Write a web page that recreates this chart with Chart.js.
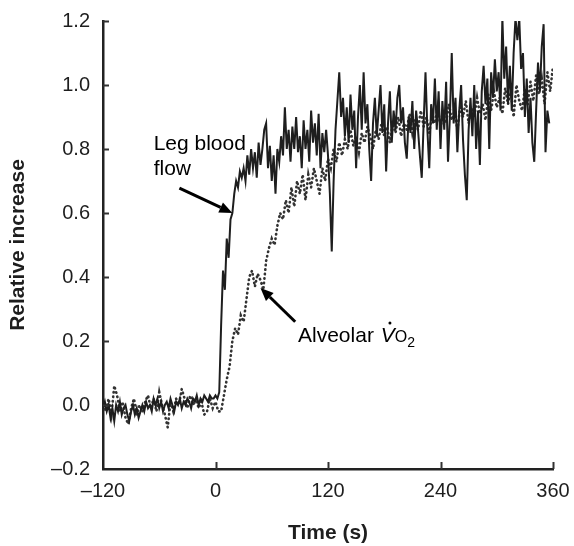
<!DOCTYPE html>
<html>
<head>
<meta charset="utf-8">
<script src="https://cdn.jsdelivr.net/npm/chart.js@4.4.1/dist/chart.umd.min.js"></script>
<style>
  html, body { margin: 0; padding: 0; background: #fff; }
  #wrap { width: 574px; height: 546px; }
</style>
</head>
<body>
<div id="wrap"><canvas id="chart" width="574" height="546"></canvas></div>
<script>
// axis ticks
const xTicks = [-120, 0, 120, 240, 360];
const yTicks = [-0.2, 0, 0.2, 0.4, 0.6, 0.8, 1.0, 1.2];

// leg blood flow, one sample every 2 s from -120 s
const flowStart = -120;
const flowStep = 2;
const flowValues = [
  -0.01, 0.01, -0.02, 0.00, -0.04, -0.01, -0.05, 0.00, -0.02, 0.01,
  -0.03, -0.01, 0.00, -0.03, -0.05, -0.02, 0.00, -0.03, -0.01, -0.04,
  -0.02, 0.00, -0.02, 0.01, -0.01, 0.00, -0.02, 0.02, 0.00, 0.02,
  -0.01, 0.01, -0.02, 0.00, 0.01, -0.01, 0.02, 0.00, -0.02, 0.01,
  0.00, 0.02, -0.01, 0.01, 0.00, 0.02, 0.01, -0.01, 0.02, 0.01,
  0.03, 0.00, 0.02, 0.01, 0.03, 0.02, 0.01, 0.03, 0.02, 0.02,
  0.03, 0.02, 0.04,
  // onset
  0.25, 0.42, 0.36, 0.52, 0.46, 0.58, 0.60, 0.66, 0.70, 0.68, 0.73, 0.71,
  // 30 s ->
  0.74, 0.70, 0.78, 0.72, 0.80, 0.74, 0.79, 0.71, 0.82, 0.75,
  0.80, 0.86, 0.88, 0.74, 0.81, 0.70, 0.78, 0.66, 0.80, 0.76,
  0.84, 0.78, 0.93, 0.80, 0.86, 0.76, 0.87, 0.80, 0.90, 0.79,
  0.84, 0.74, 0.89, 0.80, 0.86, 0.76, 0.92, 0.82, 0.88, 0.78,
  0.91, 0.74, 0.85, 0.79, 0.86, 0.78, 0.66, 0.48, 0.70, 0.86,
  0.95, 1.04, 0.90, 0.96, 0.84, 0.93, 0.82, 0.97, 0.86, 0.92,
  0.74, 0.90, 1.00, 0.86, 1.04, 0.88, 0.94, 0.80, 0.70, 0.88,
  0.96, 0.84, 0.92, 1.00, 0.85, 0.94, 0.73, 0.88, 0.98, 0.82,
  0.92, 0.86, 0.96, 1.00, 0.88, 0.93, 0.82, 0.77, 0.90, 0.85,
  0.95, 0.80, 0.92, 0.86, 0.78, 0.71, 0.88, 1.04, 0.86, 0.74,
  0.94, 0.88, 1.02, 0.86, 0.98, 0.80, 0.95, 0.86, 1.01, 0.76,
  0.90, 1.10, 0.88, 0.96, 0.79, 0.92, 1.00, 0.83, 0.72, 0.64,
  0.86, 0.96, 0.84, 1.00, 0.80, 0.92, 0.75, 0.98, 1.06, 0.94,
  1.02, 0.80, 1.04, 0.96, 1.08, 0.98, 1.04, 0.92, 1.21, 1.02,
  1.12, 0.94, 1.06, 0.92, 1.10, 1.21, 1.14, 1.21, 1.05, 1.10,
  0.90, 1.02, 0.85, 0.96, 0.82, 0.76, 0.92, 1.07, 0.98, 1.12,
  1.19, 0.79, 0.92, 0.88
];

// alveolar VO2, one sample every 3 s from -120 s
const vo2Start = -120;
const vo2Step = 3;
const vo2Values = [
  0.00, -0.02, 0.02, -0.03, 0.06, 0.03, -0.02, 0.01, -0.04, -0.06,
  -0.01, 0.02, -0.03, 0.00, -0.02, 0.01, 0.03, -0.01, 0.02, -0.02,
  0.04, 0.00, -0.03, -0.07, 0.01, -0.02, 0.02, 0.00, 0.05, 0.02,
  -0.01, 0.03, 0.00, 0.02, -0.01, 0.01, -0.03, -0.02, 0.02, -0.01,
  0.01, -0.02, -0.02, 0.03, 0.08, 0.12, 0.20, 0.24, 0.22, 0.28,
  0.26, 0.33, 0.40, 0.42, 0.37, 0.41, 0.39, 0.36, 0.45, 0.49,
  0.52, 0.50, 0.56, 0.60, 0.58, 0.64, 0.60, 0.68, 0.62, 0.70,
  0.66, 0.72, 0.64, 0.72, 0.68, 0.74, 0.70, 0.66, 0.74, 0.70,
  0.77, 0.74, 0.80, 0.76, 0.82, 0.78, 0.83, 0.80, 0.86, 0.81,
  0.84, 0.79, 0.85, 0.82, 0.87, 0.84, 0.80, 0.86, 0.83, 0.88,
  0.84, 0.87, 0.82, 0.88, 0.85, 0.90, 0.84, 0.88, 0.86, 0.91,
  0.85, 0.89, 0.86, 0.92, 0.87, 0.90, 0.85, 0.91, 0.88, 0.93,
  0.87, 0.91, 0.88, 0.94, 0.89, 0.92, 0.86, 0.93, 0.90, 0.95,
  0.88, 0.93, 0.90, 0.96, 0.91, 0.94, 0.89, 0.97, 0.92, 0.98,
  0.93, 0.96, 0.91, 0.99, 0.94, 0.98, 0.90, 1.00, 0.95, 0.92,
  0.99, 0.94, 1.01, 0.95, 1.03, 0.97, 1.02, 0.94, 1.04, 0.98,
  1.06
];

const toPoints = (start, step, values) =>
  values.map((v, i) => ({ x: start + i * step, y: v }));

const dash = (v) => (v < 0 ? '\u2013' + Math.abs(v) : String(v));

const FONT = '"Liberation Sans", Arial, sans-serif';
const INK = '#1e1e1e';

function arrow(ctx, x0, y0, x1, y1) {
    const ang = Math.atan2(y1 - y0, x1 - x0);
    const len = 13, half = 5.5;
    const bx = x1 - len * Math.cos(ang), by = y1 - len * Math.sin(ang);
    ctx.beginPath();
    ctx.moveTo(x0, y0);
    ctx.lineTo(bx, by);
    ctx.lineWidth = 3;
    ctx.strokeStyle = '#000';
    ctx.stroke();
    ctx.beginPath();
    ctx.moveTo(x1, y1);
    ctx.lineTo(bx - half * Math.sin(ang), by + half * Math.cos(ang));
    ctx.lineTo(bx + half * Math.sin(ang), by - half * Math.cos(ang));
    ctx.closePath();
    ctx.fillStyle = '#000';
    ctx.fill();
}

// inward tick marks + labels with arrows
const decorations = {
    id: 'decorations',
    afterDraw(chart) {
        const { ctx, scales: { x, y } } = chart;
        ctx.save();
        ctx.strokeStyle = '#333';
        ctx.lineWidth = 2;
        yTicks.slice(1).forEach(v => {
            const py = Math.round(y.getPixelForValue(v)) + 0.5;
            ctx.beginPath();
            ctx.moveTo(x.left, py);
            ctx.lineTo(x.left + 6, py);
            ctx.stroke();
        });
        xTicks.slice(1).forEach(v => {
            const px = Math.round(x.getPixelForValue(v)) + 0.5;
            ctx.beginPath();
            ctx.moveTo(px, y.bottom);
            ctx.lineTo(px, y.bottom - 7);
            ctx.stroke();
        });

        const P = (t, v) => [x.getPixelForValue(t), y.getPixelForValue(v)];

        // Leg blood flow
        ctx.fillStyle = '#000';
        ctx.font = '21px ' + FONT;
        ctx.textBaseline = 'alphabetic';
        ctx.textAlign = 'left';
        let [tx, ty] = P(-66, 0.797);
        ctx.fillText('Leg blood', tx, ty);
        ctx.fillText('flow', tx, ty + 25);
        arrow(ctx, ...P(-38.5, 0.678), ...P(18, 0.6));

        // Alveolar VO2
        arrow(ctx, ...P(85, 0.26), ...P(48, 0.366));
        [tx, ty] = P(88, 0.197);
        ctx.font = '21px ' + FONT;
        ctx.fillText('Alveolar ', tx, ty);
        tx += ctx.measureText('Alveolar ').width + 1;
        ctx.font = 'italic 21px ' + FONT;
        ctx.fillText('V', tx, ty);
        const vw = ctx.measureText('V').width;
        ctx.beginPath();
        ctx.arc(tx + vw * 0.66, ty - 19, 1.5, 0, Math.PI * 2);
        ctx.fill();
        tx += vw;
        ctx.font = '16px ' + FONT;
        ctx.fillText('O', tx, ty);
        tx += ctx.measureText('O').width;
        ctx.font = '14px ' + FONT;
        ctx.fillText('2', tx, ty + 5);
        ctx.restore();
    }
};

new Chart(document.getElementById('chart'), {
    type: 'line',
    data: {
        datasets: [
            {
                label: 'Leg blood flow',
                data: toPoints(flowStart, flowStep, flowValues),
                borderColor: INK,
                borderWidth: 2,
                pointRadius: 0,
                tension: 0,
            },
            {
                label: 'Alveolar VO2',
                data: toPoints(vo2Start, vo2Step, vo2Values),
                borderColor: '#333',
                borderWidth: 2.6,
                borderDash: [0.5, 4],
                borderCapStyle: 'round',
                pointRadius: 0,
                tension: 0,
            },
        ],
    },
    options: {
        responsive: false,
        animation: false,
        events: [],
        layout: { padding: { top: 21, right: 21, left: 0, bottom: 0 } },
        plugins: { legend: { display: false }, tooltip: { enabled: false } },
        scales: {
            x: {
                type: 'linear',
                min: -120,
                max: 360,
                afterBuildTicks: s => { s.ticks = xTicks.map(v => ({ value: v })); },
                afterFit: s => {
                    s.height = 77;
                    s.paddingLeft = 0;
                    s.paddingRight = 0;
                },
                grid: { display: false, drawTicks: false },
                border: { display: true, color: '#222', width: 2.5 },
                ticks: {
                    padding: 10,
                    color: INK,
                    font: { family: FONT, size: 20 },
                    callback: v => dash(v),
                },
                title: {
                    display: true,
                    text: 'Time (s)',
                    color: INK,
                    font: { family: FONT, size: 21, weight: 'bold' },
                    padding: { top: 0, bottom: 0 },
                },
            },
            y: {
                min: -0.2,
                max: 1.2,
                afterBuildTicks: s => { s.ticks = yTicks.map(v => ({ value: v })); },
                afterFit: s => {
                    s.width = 103;
                    s.paddingTop = 0;
                    s.paddingBottom = 0;
                },
                grid: { display: false, drawTicks: false },
                border: { display: true, color: '#222', width: 2.5 },
                ticks: {
                    padding: 13,
                    color: INK,
                    font: { family: FONT, size: 20 },
                    callback: v => dash(Number(v).toFixed(1)),
                },
                title: {
                    display: true,
                    text: 'Relative increase',
                    color: INK,
                    font: { family: FONT, size: 21, weight: 'bold' },
                    padding: { top: 6, bottom: 0 },
                },
            },
        },
    },
    plugins: [decorations],
});
</script>
</body>
</html>
